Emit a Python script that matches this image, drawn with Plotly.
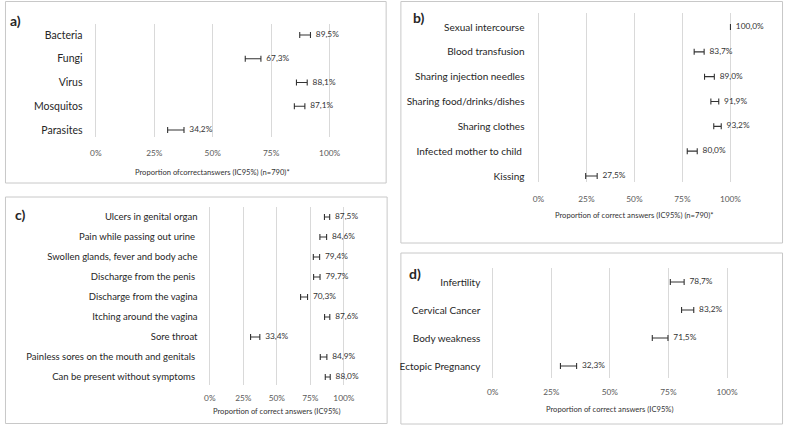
import plotly.graph_objects as go

# ---------------- data ----------------
a_cats = ["Bacteria", "Fungi", "Virus", "Mosquitos", "Parasites"]
a_vals = [89.5, 67.3, 88.1, 87.1, 34.2]
a_low = [87.2, 63.9, 85.8, 84.9, 30.7]
a_up = [91.8, 70.6, 90.4, 89.4, 37.7]

b_cats = ["Sexual intercourse", "Blood transfusion", "Sharing injection needles",
          "Sharing food/drinks/dishes", "Sharing clothes", "Infected mother to child ", "Kissing"]
b_vals = [100.0, 83.7, 89.0, 91.9, 93.2, 80.0, 27.5]
b_low = [None, 81.1, 86.5, 89.8, 91.3, 77.5, 24.6]
b_up = [None, 86.3, 91.6, 93.9, 95.2, 82.7, 30.6]

c_cats = ["Ulcers in genital organ", "Pain while passing out urine ", "Swollen glands, fever and body ache",
          "Discharge from the penis ", "Discharge from the vagina", "Itching around the vagina",
          "Sore throat", "Painless sores on the mouth and genitals ", "Can be present without symptoms "]
c_vals = [87.5, 84.6, 79.4, 79.7, 70.3, 87.6, 33.4, 84.9, 88.0]
c_low = [85.5, 82.1, 77.2, 77.4, 67.7, 85.6, 30.4, 82.4, 86.1]
c_up = [89.4, 87.1, 81.9, 82.2, 72.9, 89.5, 37.3, 87.3, 89.8]

d_cats = ["Infertility", "Cervical Cancer", "Body weakness", "Ectopic Pregnancy"]
d_vals = [78.7, 83.2, 71.5, 32.3]
d_low = [75.8, 80.6, 68.1, 28.9]
d_up = [81.7, 85.8, 74.8, 35.8]

tick_vals = [0, 25, 50, 75, 100]
tick_text = ["0%", "25%", "50%", "75%", "100%"]

panel_labels = ["a)", "b)", "c)", "d)"]
axis_titles = ["Proportion ofcorrectanswers (IC95%) (n=790)*",
               "Proportion of correct answers (IC95%) (n=790)*",
               "Proportion of correct answers (IC95%)",
               "Proportion of correct answers (IC95%)"]

# ---------------- layout geometry (pixels) ----------------
W, H = 794, 426
FONT = "Lato"
ERR_COL = "#333333"
GRID = "#d9d9d9"
BORDER = "#c8c8c8"
EXT = 1.0  # range extension so edge gridlines are drawn

panels = [
    dict(cats=a_cats, vals=a_vals, low=a_low, up=a_up,
         x0=93.5, x1=331.5, gy0=24, gy1=137, c0=35, c1=130,
         box=(1.5, 1.5, 389, 183), lab=(12, 20), tity=172, catsize=10.5, tkstand=10,
         catstand=11),
    dict(cats=b_cats, vals=b_vals, low=b_low, up=b_up,
         x0=544, x1=739.5, gy0=13, gy1=182, c0=27, c1=176,
         box=(404, 1.5, 792.5, 243), lab=(422, 18), tity=215, catsize=10, tkstand=11,
         catstand=12),
    dict(cats=c_cats, vals=c_vals, low=c_low, up=c_up,
         x0=209.5, x1=346, gy0=207, gy1=385, c0=217, c1=377,
         box=(1.5, 197, 390, 423.5), lab=(17, 215), tity=411, catsize=9.5, tkstand=7,
         catstand=12),
    dict(cats=d_cats, vals=d_vals, low=d_low, up=d_up,
         x0=497.5, x1=736, gy0=268, gy1=378, c0=282, c1=366,
         box=(404, 253, 792.5, 424), lab=(418, 273), tity=409, catsize=10, tkstand=8,
         catstand=10),
]


def fx(px):
    return px / W


def fy(py):
    return 1 - py / H


fig = go.Figure()
layout = dict(width=W, height=H, margin=dict(l=0, r=0, t=0, b=0),
              paper_bgcolor="white", plot_bgcolor="white", showlegend=False,
              font=dict(family=FONT, color="#333333"))
shapes, annotations = [], []

for i, p in enumerate(panels, start=1):
    xa = "x" if i == 1 else f"x{i}"
    ya = "y" if i == 1 else f"y{i}"
    n = len(p["cats"])
    step = (p["c1"] - p["c0"]) / (n - 1)
    top_pad = (p["c0"] - p["gy0"]) / step
    bot_pad = (p["gy1"] - p["c1"]) / step
    ppu = (p["x1"] - p["x0"]) / 100.0
    dx0 = p["x0"] - EXT * ppu
    dx1 = p["x1"] + EXT * ppu

    plus = [(u - v) if u is not None else None for u, v in zip(p["up"], p["vals"])]
    minus = [(v - l) if l is not None else None for l, v in zip(p["low"], p["vals"])]
    fig.add_trace(go.Scatter(
        x=p["vals"], y=p["cats"], mode="markers", xaxis=xa, yaxis=ya,
        marker=dict(size=1, opacity=0),
        error_x=dict(type="data", symmetric=False, array=plus, arrayminus=minus,
                     color=ERR_COL, thickness=1.1, width=3),
        hoverinfo="skip"))
    tx = [u if u is not None else v for u, v in zip(p["up"], p["vals"])]
    fig.add_trace(go.Scatter(
        x=tx, y=p["cats"], mode="markers+text", xaxis=xa, yaxis=ya,
        marker=dict(size=7, opacity=0),
        text=[f"{v:.1f}%".replace(".", ",") for v in p["vals"]],
        textposition="middle right", cliponaxis=False,
        textfont=dict(size=8.3, color="#333333", family=FONT),
        hoverinfo="skip"))

    xkey = "xaxis" if i == 1 else f"xaxis{i}"
    ykey = "yaxis" if i == 1 else f"yaxis{i}"
    layout[xkey] = dict(domain=[fx(dx0), fx(dx1)], anchor=ya, range=[-EXT, 100 + EXT],
                        tickvals=tick_vals, ticktext=tick_text, showgrid=True,
                        gridcolor=GRID, gridwidth=1, zeroline=False, showline=False,
                        ticks="", ticklabelstandoff=p["tkstand"],
                        tickfont=dict(size=8.3, color="#595959", family=FONT),
                        fixedrange=True)
    layout[ykey] = dict(domain=[fy(p["gy1"]), fy(p["gy0"])], anchor=xa, type="category",
                        categoryorder="array", categoryarray=p["cats"],
                        range=[n - 1 + bot_pad, -top_pad], showgrid=False,
                        zeroline=False, showline=False, ticks="",
                        ticklabelstandoff=max(0, int(round(p["catstand"] + EXT * ppu - 3))),
                        tickfont=dict(size=p["catsize"], color="#262626", family=FONT),
                        fixedrange=True)

    bx0, by0, bx1, by1 = p["box"]
    shapes.append(dict(type="rect", xref="paper", yref="paper",
                       x0=fx(bx0), x1=fx(bx1), y0=fy(by1), y1=fy(by0),
                       line=dict(color=BORDER, width=1), fillcolor="rgba(0,0,0,0)",
                       layer="below"))
    annotations.append(dict(text=f"<b>{panel_labels[i-1]}</b>", xref="paper", yref="paper",
                            x=fx(p["lab"][0]), y=fy(p["lab"][1]), showarrow=False,
                            xanchor="center", yanchor="middle",
                            font=dict(size=14, color="#262626", family=FONT)))
    annotations.append(dict(text=axis_titles[i-1], xref=f"{xa} domain", yref="paper",
                            x=0.5, y=fy(p["tity"]), showarrow=False,
                            xanchor="center", yanchor="middle",
                            font=dict(size=7.6, color="#333333", family=FONT)))

layout["shapes"] = shapes
layout["annotations"] = annotations
fig.update_layout(**layout)
fig.write_html("out.html")
